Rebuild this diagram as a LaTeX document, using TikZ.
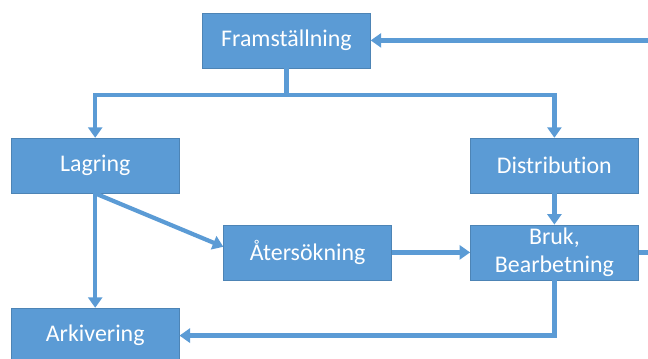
\documentclass[tikz,border=0pt]{standalone}
\usepackage{fontspec}
\setmainfont{Carlito}[Ligatures=NoCommon]
\usetikzlibrary{arrows.meta,positioning,calc}
\definecolor{flowblue}{RGB}{91,155,213}

\begin{document}
\begin{tikzpicture}[
      arr/.style={-{Triangle[length=7.5pt,width=10pt]}, line width=3pt, flowblue},
      stage/.style={rectangle, fill=flowblue, draw=flowblue!85!black, line width=0.4pt,
                    text=white, minimum width=4.2cm, minimum height=1.375cm,
                    align=center, inner sep=2pt, font=\fontsize{17}{20}\selectfont},
    ]
    \clip (0,0) rectangle (16.2,-8.95);
    \useasboundingbox (0,0) rectangle (16.2,-8.95);

    \node[stage] (fram)  at (7.16,-1.01)  {Framställning};
    \node[stage] (lag)   at (2.38,-4.14)  {Lagring};
    \node[stage] (dist)  at (13.86,-4.14) {Distribution};
    \node[stage] (aters) at (7.69,-6.31)  {Återsökning};
    \node[stage] (bruk)  at (13.86,-6.31) {Bruk,\\ Bearbetning};
    \node[stage] (ark)   at (2.38,-8.39)  {Arkivering};

    \coordinate (split) at (7.16,-2.375);
    \coordinate (loop)  at (16.6,-6.31);

    \draw[arr] (fram.south) -- (split) -| (lag.north);
    \draw[arr] (split) -| (dist.north);
    \draw[arr] (dist.south) -- (bruk.north);
    \draw[arr] (lag.south) -- (ark.north);
    \draw[arr] (lag.south) -- ([yshift=1.4mm]aters.west);
    \draw[arr] (aters.east) -- (bruk.west);
    \draw[arr] (bruk.south) |- (ark.east);
    \draw[arr] (bruk.east) -- (loop) |- (fram.east);
  \end{tikzpicture}
\end{document}
